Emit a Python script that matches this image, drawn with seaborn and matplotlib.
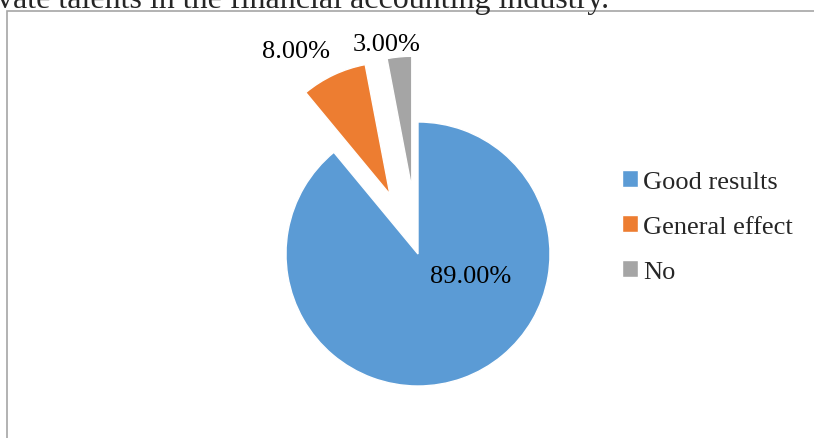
import matplotlib
matplotlib.use("Agg")
import matplotlib.pyplot as plt
import seaborn as sns
import numpy as np
from matplotlib.patches import Rectangle

categorie = ["Good results", "General effect", "No"]
valori = [89.0, 8.0, 3.0]
colori = ["#5B9BD5", "#ED7D31", "#A5A5A5"]
titolo = "vate talents in the financial accounting industry."

sns.set_theme(style="white")
plt.rcParams["font.family"] = ["Liberation Serif", "DejaVu Serif"]

W, H = 814, 439
R = 132.0
cx, cy = 418, 255  # centro torta in pixel (dall'alto)

fig = plt.figure(figsize=(W / 100, H / 100), dpi=100)
ax = fig.add_axes([0, 0, 1, 1])

wedges, testi, pct = ax.pie(
    valori,
    colors=colori,
    startangle=90,
    counterclock=False,
    explode=[0, 0.5, 0.5],
    autopct="%.2f%%",
    textprops={"fontsize": 19, "color": "black"},
)

# posizione etichette (distanza in raggi, angolo in gradi)
pos_etichette = [(0.43, -23), (1.79, 121), (1.61, 98.4)]
for t, (d, a) in zip(pct, pos_etichette):
    t.set_position((d * np.cos(np.radians(a)), d * np.sin(np.radians(a))))
    t.set_ha("center")
    t.set_va("center")

ax.set_aspect("auto")
ax.set_xlim(-cx / R, (W - cx) / R)
ax.set_ylim(-(H - cy) / R, cy / R)
ax.axis("off")

# bordo dell'area del grafico
fig.patches.append(Rectangle((7 / W, -0.1), 1.2, (H - 12) / H + 0.1,
                             transform=fig.transFigure, fill=False,
                             edgecolor="#A6A6A6", linewidth=1.2))

fig.text(-3 / W, 1 - 8 / H, titolo, fontsize=23, va="baseline", ha="left")

leg = fig.legend(
    wedges, categorie,
    loc="upper left", bbox_to_anchor=(622 / W, 1 - 171 / H),
    frameon=False, fontsize=19,
    handlelength=0.6, handleheight=0.6, handletextpad=0.2,
    labelspacing=0.85, borderaxespad=0, borderpad=0,
)

fig.savefig("out.png", dpi=100)
